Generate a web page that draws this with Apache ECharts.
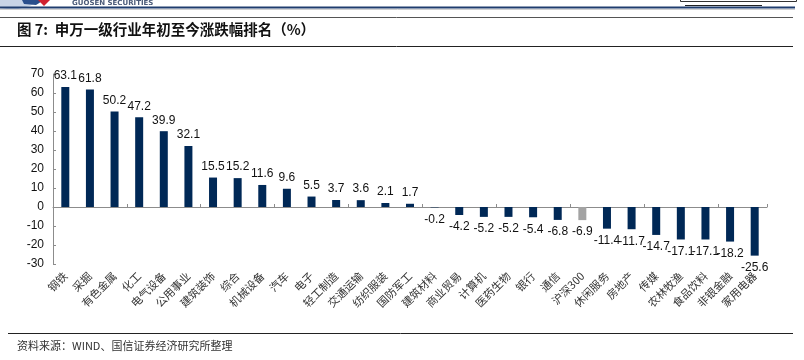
<!DOCTYPE html>
<html><head><meta charset="utf-8">
<script src="https://cdn.jsdelivr.net/npm/echarts@6/dist/echarts.min.js"></script>
<style>html,body{margin:0;padding:0;background:#fff}#c{width:804px;height:360px}</style>
</head><body><div id="c"></div>
<script>
var categories = ['钢铁','采掘','有色金属','化工','电气设备','公用事业','建筑装饰','综合','机械设备','汽车','电子','轻工制造','交通运输','纺织服装','国防军工','建筑材料','商业贸易','计算机','医药生物','银行','通信','沪深300','休闲服务','房地产','传媒','农林牧渔','食品饮料','非银金融','家用电器'];
var values = [63.1,61.8,50.2,47.2,39.9,32.1,15.5,15.2,11.6,9.6,5.5,3.7,3.6,2.1,1.7,-0.2,-4.2,-5.2,-5.2,-5.4,-6.8,-6.9,-11.4,-11.7,-14.7,-17.1,-17.1,-18.2,-25.6];
var highlight = '沪深300';
var yTicks = {min:-30, max:70, interval:10};
var title = '图 7:  申万一级行业年初至今涨跌幅排名（%）';
var source = '资料来源：WIND、国信证券经济研究所整理';

var navy = '#002856', gray = '#a3a3a3';
var data = values.map(function(v, i){
  return {
    value: v,
    itemStyle: {color: categories[i] === highlight ? gray : navy},
    label: {position: v >= 0 ? 'top' : 'bottom', distance: v >= 0 ? 5 : 6}
  };
});

var chart = echarts.init(document.getElementById('c'));
chart.setOption({
  animation: false,
  backgroundColor: '#fff',
  grid: {left: 53, right: 37, top: 74, bottom: 96, containLabel: false},
  xAxis: [{
    type: 'category', data: categories, position: 'bottom',
    axisLine: {onZero: true, lineStyle: {color: '#8c8c8c', width: 1}},
    axisTick: {show: true, inside: true, length: 3, lineStyle: {color: '#8c8c8c'}},
    axisLabel: {show: false}
  }, {
    type: 'category', data: categories, position: 'bottom',
    axisLine: {show: false, onZero: false}, axisTick: {show: false},
    axisLabel: {rotate: 45, margin: 10, fontSize: 11, color: '#333',
      fontFamily: 'Noto Sans CJK SC', interval: 0}
  }],
  yAxis: {
    type: 'value', min: yTicks.min, max: yTicks.max, interval: yTicks.interval,
    splitLine: {show: false},
    axisLine: {show: true, lineStyle: {color: '#8c8c8c'}},
    axisTick: {show: true, inside: true, length: 3, lineStyle: {color: '#8c8c8c'}},
    axisLabel: {fontSize: 12, color: '#111', fontFamily: 'Liberation Sans', margin: 9}
  },
  series: [{
    type: 'bar', data: data, xAxisIndex: 0, barWidth: 8,
    label: {show: true, fontSize: 12, color: '#111', fontFamily: 'Liberation Sans',
      formatter: function(p){ return p.value.toFixed(1); }}
  }],
  graphic: [
    {type: 'polygon', shape: {points: [[0,0],[40,0],[30,6],[14,10],[0,8]]}, style: {fill: '#c8d4e6'}},
    {type: 'polygon', shape: {points: [[22,0],[44,0],[36,5],[24,4]]}, style: {fill: '#2a4f8c'}},
    {type: 'polygon', shape: {points: [[38,0],[50,0],[44,6]]}, style: {fill: '#d0212f'}},
    {type: 'text', left: 72, top: 0, style: {text: 'GUOSEN SECURITIES', font: 'bold 7px "DejaVu Sans"', fill: '#4a5a78'}},
    {type: 'line', shape: {x1: 0, y1: 7.5, x2: 795, y2: 7.5}, style: {stroke: '#1f3d6e', lineWidth: 2}},
    {type: 'line', shape: {x1: 0, y1: 9.5, x2: 795, y2: 9.5}, style: {stroke: '#d0d0d0', lineWidth: 1}},
    {type: 'rect', shape: {x: 680.5, y: -1, width: 116, height: 2.5}, style: {fill: 'none', stroke: '#333', lineWidth: 1}},
    {type: 'line', shape: {x1: 685, y1: 5.5, x2: 762, y2: 5.5}, style: {stroke: '#222', lineWidth: 1}},
    {type: 'line', shape: {x1: 0, y1: 17.5, x2: 793, y2: 17.5}, style: {stroke: '#555', lineWidth: 1}},
    {type: 'text', left: 17, top: 22, style: {text: title, font: 'bold 14.5px "Noto Sans CJK SC"', fill: '#111'}},
    {type: 'line', shape: {x1: 0, y1: 46.5, x2: 793, y2: 46.5}, style: {stroke: '#222', lineWidth: 1}},
    {type: 'line', shape: {x1: 8, y1: 333.5, x2: 793, y2: 333.5}, style: {stroke: '#222', lineWidth: 1}},
    {type: 'text', left: 17, top: 340, style: {text: source, font: '11px "Noto Sans CJK SC"', fill: '#333'}}
  ]
});
</script></body></html>
